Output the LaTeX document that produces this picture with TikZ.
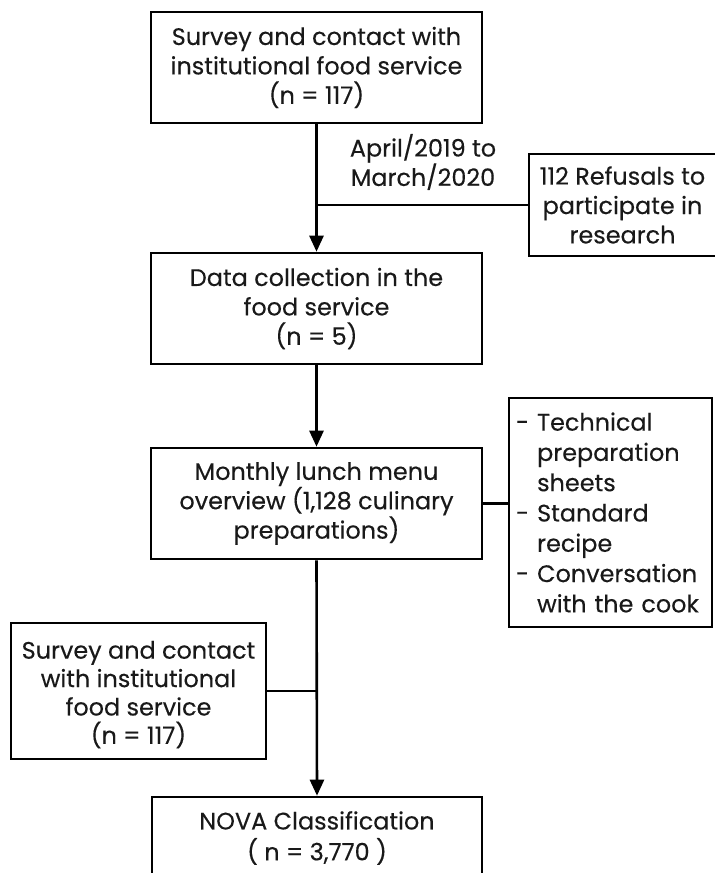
\documentclass[tikz,border=0pt]{standalone}
\usepackage{fontspec}
\setmainfont{Poppins}[FakeBold=0.25]
\usetikzlibrary{arrows.meta}
\begin{document}
\begin{tikzpicture}[x=1bp,y=-1bp,
  txt/.style={font=\fontsize{24}{29.5}\selectfont, text=black!90},
  box/.style={txt, draw=black, line width=2.6bp, inner sep=0pt, align=center},
  link/.style={draw=black, line width=2.6bp},
  arrowlink/.style={link, -{Triangle[length=16bp,width=14bp]}}
]
\useasboundingbox (0,0) rectangle (715,873);
\clip (0,0) rectangle (715,873);
\fill[white] (0,0) rectangle (715,873);

\node[box, minimum width=331bp, minimum height=111bp] (b1) at (316.5,67.5)
  {Survey and contact with\\institutional food service\\(n = 117)};
\node[txt, align=center, inner sep=0pt] (lbl) at (423,162)
  {April/2019 to\\March/2020};
\node[box, minimum width=187bp, minimum height=102bp] (ref) at (622.5,205)
  {112 Refusals to\\participate in\\research};
\node[box, minimum width=331bp, minimum height=111bp] (b2) at (316.5,308.5)
  {Data collection in the\\food service\\(n = 5)};
\node[box, minimum width=331bp, minimum height=111bp] (b3) at (316.5,503.5)
  {Monthly lunch menu\\overview (1,128 culinary\\preparations)};
\node[box, font=\fontsize{24}{30.4}\selectfont, align=left, text width=189bp, inner xsep=7bp, minimum height=229bp] (side) at (610.5,512.5)
  {-~Technical\\\hphantom{-~}preparation\\\hphantom{-~}sheets\\-~Standard\\\hphantom{-~}recipe\\-~Conversation\\\hphantom{-~}with the cook};
\node[box, font=\fontsize{24}{28.5}\selectfont, minimum width=255bp, minimum height=136bp] (b4) at (138.5,691)
  {\rule{0pt}{25bp}Survey and contact\\with institutional\\food service\\(n = 117)};
\node[box, font=\fontsize{24}{31}\selectfont, minimum width=330bp, minimum height=82bp] (b5) at (317,838)
  {NOVA Classification\\( n = 3,770 )};

\draw[arrowlink] (b1.south) -- (b2.north);
\draw[link] (ref.west) -- (ref.west -| b1.south);
\draw[arrowlink] (b2.south) -- (b3.north);
\draw[link] (b3.east) -- (b3.east -| side.west);
\draw[arrowlink] (b3.south) -- (b5.north);
\draw[link] (b4.east) -- (b4.east -| b3.south);
\end{tikzpicture}
\end{document}
